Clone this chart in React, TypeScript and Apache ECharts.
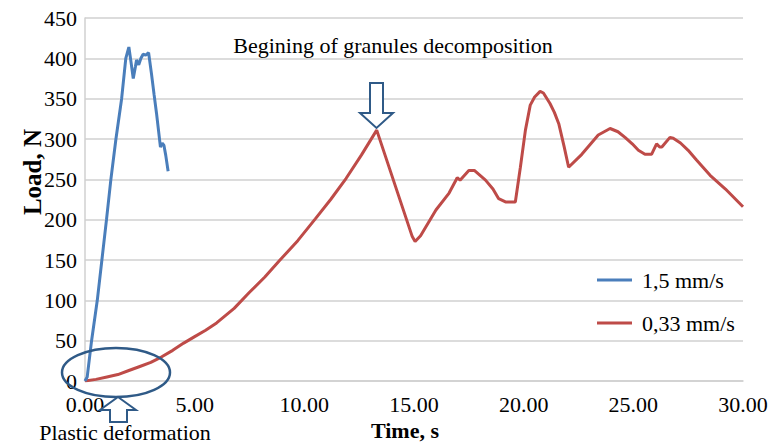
import React, { useEffect, useRef } from "react";
import * as echarts from "echarts";

const xTicks = [0, 5, 10, 15, 20, 25, 30];
const yTicks = [0, 50, 100, 150, 200, 250, 300, 350, 400, 450];

const fastName = "1,5 mm/s";
const slowName = "0,33 mm/s";

const fastTime = [0, 0.1, 0.3, 0.56, 0.77, 0.98, 1.18, 1.41, 1.67, 1.86, 2.0, 2.1, 2.2, 2.3, 2.35, 2.45, 2.55, 2.65, 2.77, 2.9, 3.03, 3.15, 3.26, 3.44, 3.52, 3.6, 3.68, 3.79];
const fastLoad = [0, 5, 50, 100, 150, 200, 250, 300, 350, 400, 414, 395, 375, 390, 398, 392, 400, 405, 404, 407, 381, 355, 332, 290, 295, 292, 280, 260];

const slowTime = [0, 0.5, 1.0, 1.5, 2.0, 2.5, 3.0, 3.5, 4.0, 4.5, 5.0, 5.5, 6.0, 6.8, 7.5, 8.2, 8.86, 9.7, 10.5, 11.2, 11.9, 12.6, 13.3, 14.92, 15.05, 15.3, 16.0, 16.6, 16.97, 17.1, 17.5, 17.75, 18.26, 18.6, 18.86, 19.17, 19.62, 19.85, 20.08, 20.3, 20.5, 20.75, 20.9, 21.2, 21.4, 21.6, 21.85, 22.05, 22.65, 23.4, 23.94, 24.3, 24.62, 24.95, 25.23, 25.53, 25.83, 26.06, 26.2, 26.3, 26.67, 26.82, 27.15, 27.5, 27.88, 28.5, 29.2, 30];
const slowLoad = [0, 2, 5, 8, 13, 18, 23, 30, 38, 47, 55, 63, 72, 90, 110, 129, 149, 174, 201, 225, 251, 280, 311, 179, 173, 180, 212, 233, 252, 249, 261, 261, 249, 238, 226, 222, 222, 265, 311, 342, 352, 359, 357, 344, 333, 319, 290, 265, 281, 305, 313, 309, 302, 294, 286, 281, 281, 294, 290, 290, 302, 301, 295, 286, 274, 255, 238, 216];

const serif = "Liberation Serif, DejaVu Serif, serif";
const annot = "#2F5A87";

export default function App() {
  const ref = useRef<HTMLDivElement>(null);
  useEffect(() => {
    if (!ref.current) return;
    const chart = echarts.init(ref.current, undefined, { renderer: "svg" });
    const zip = (a: number[], b: number[]) => a.map((t, i) => [t, b[i]]);
    const txt = (text: string, size: number, bold = false) => ({
      text,
      fontFamily: serif,
      fontSize: size,
      fontWeight: bold ? "bold" : "normal",
      fill: "#000",
      textAlign: "center",
      textVerticalAlign: "middle",
    });
    chart.setOption({
      animation: false,
      backgroundColor: "#ffffff",
      textStyle: { fontFamily: serif },
      grid: { left: 85, right: 35, top: 18, bottom: 62, containLabel: false },
      legend: {
        orient: "vertical",
        left: 592,
        top: 264,
        itemWidth: 35,
        itemHeight: 12,
        itemGap: 21,
        textStyle: { fontFamily: serif, fontSize: 22, color: "#000", padding: [0, 0, 0, 5] },
        data: [
          { name: fastName, icon: "path://M0,0 L35,0 L35,3 L0,3 Z" },
          { name: slowName, icon: "path://M0,0 L35,0 L35,3 L0,3 Z" },
        ],
      },
      xAxis: {
        type: "value",
        min: xTicks[0],
        max: xTicks[xTicks.length - 1],
        interval: 5,
        axisLine: { show: true, lineStyle: { color: "#D0D0D0", width: 1.5 } },
        axisTick: { show: false },
        splitLine: { show: false },
        axisLabel: {
          fontFamily: serif,
          fontSize: 22,
          color: "#000",
          margin: 12,
          formatter: (v: number) => v.toFixed(2),
        },
      },
      yAxis: {
        type: "value",
        min: yTicks[0],
        max: yTicks[yTicks.length - 1],
        interval: 50,
        axisLine: { show: true, lineStyle: { color: "#D0D0D0", width: 1.5 } },
        axisTick: { show: false },
        splitLine: { show: true, lineStyle: { color: "#D0D0D0", width: 1.5 } },
        axisLabel: { fontFamily: serif, fontSize: 22, color: "#000", margin: 8 },
      },
      series: [
        {
          name: fastName,
          type: "line",
          data: zip(fastTime, fastLoad),
          showSymbol: false,
          symbol: "none",
          lineStyle: { color: "#4A7EBB", width: 3 },
          itemStyle: { color: "#4A7EBB" },
          z: 3,
        },
        {
          name: slowName,
          type: "line",
          data: zip(slowTime, slowLoad),
          showSymbol: false,
          symbol: "none",
          lineStyle: { color: "#BE4B48", width: 3 },
          itemStyle: { color: "#BE4B48" },
          z: 2,
        },
      ],
      graphic: [
        { type: "text", x: 393, y: 45, style: txt("Begining of granules decomposition", 22) },
        {
          type: "polygon",
          z: 100,
          shape: {
            points: [[370, 83], [383, 83], [383, 113], [393, 113], [376.5, 128], [360, 113], [370, 113]],
          },
          style: { fill: "#fff", stroke: annot, lineWidth: 2 },
        },
        {
          type: "ellipse",
          z: 100,
          shape: { cx: 116, cy: 372.5, rx: 54, ry: 24.5 },
          style: { fill: "none", stroke: annot, lineWidth: 2.5 },
        },
        {
          type: "polygon",
          z: 100,
          shape: {
            points: [[118, 397], [136, 410], [127, 410], [127, 422], [110, 422], [110, 410], [100, 410]],
          },
          style: { fill: "#fff", stroke: annot, lineWidth: 2 },
        },
        { type: "text", x: 125, y: 432, z: 101, style: txt("Plastic deformation", 22) },
        { type: "text", x: 405, y: 430, style: txt("Time, s", 22, true) },
        { type: "text", x: 32, y: 172, rotation: Math.PI / 2, style: txt("Load, N", 25, true) },
      ],
    });
    return () => chart.dispose();
  }, []);
  return <div ref={ref} style={{ width: 778, height: 443, position: "absolute", left: 0, top: 0 }} />;
}
